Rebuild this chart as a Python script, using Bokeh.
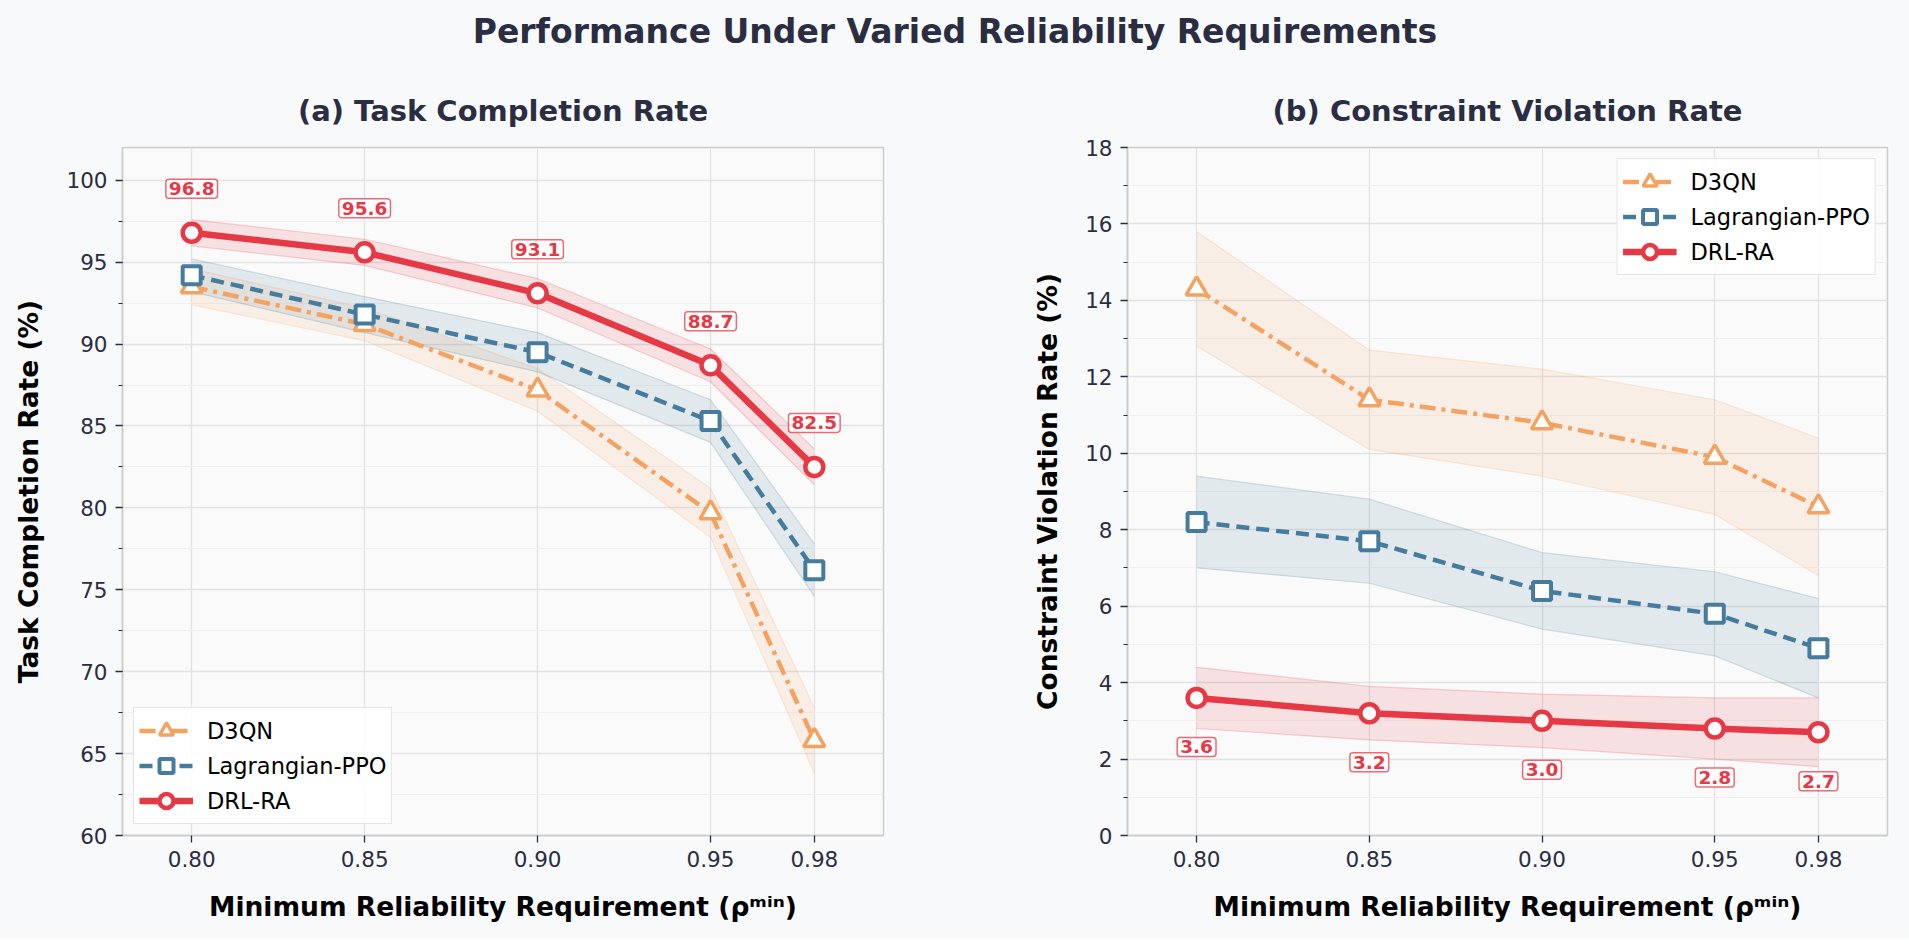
from bokeh.plotting import figure
from bokeh.models import (ColumnDataSource, FixedTicker, SingleIntervalTicker, Legend,
                          LegendItem, Range1d, Div, NumeralTickFormatter)
from bokeh.layouts import row, column
from bokeh.core.properties import value
from bokeh.embed import file_html
from bokeh.resources import INLINE

# ---------------- data ----------------
rho_min = [0.80, 0.85, 0.90, 0.95, 0.98]
methods = ["D3QN", "Lagrangian-PPO", "DRL-RA"]

tcr_d3qn = [93.5, 91.2, 87.2, 79.7, 65.8]
tcr_ppo = [94.2, 91.8, 89.5, 85.3, 76.2]
tcr_drlra = [96.8, 95.6, 93.1, 88.7, 82.5]
tcr_d3qn_std = [1.1, 1.0, 1.3, 1.5, 2.0]
tcr_ppo_std = [1.0, 1.1, 1.2, 1.3, 1.6]
tcr_drlra_std = [0.8, 0.8, 0.9, 1.0, 1.1]

cvr_d3qn = [14.3, 11.4, 10.8, 9.9, 8.6]
cvr_ppo = [8.2, 7.7, 6.4, 5.8, 4.9]
cvr_drlra = [3.6, 3.2, 3.0, 2.8, 2.7]
cvr_d3qn_std = [1.5, 1.3, 1.4, 1.5, 1.8]
cvr_ppo_std = [1.2, 1.1, 1.0, 1.1, 1.3]
cvr_drlra_std = [0.8, 0.7, 0.7, 0.8, 0.9]

main_title = "Performance Under Varied Reliability Requirements"
titles = ["(a) Task Completion Rate", "(b) Constraint Violation Rate"]
ylabels = ["Task Completion Rate (%)", "Constraint Violation Rate (%)"]
xlabel = "Minimum Reliability Requirement (\u03c1\u1d50\u2071\u207f)"

# ---------------- style ----------------
FONT = "DejaVu Sans"
DARK = "#2b2d42"
COLORS = {"D3QN": "#f4a261", "Lagrangian-PPO": "#457b9d", "DRL-RA": "#e63946"}
MARKERS = {"D3QN": "triangle", "Lagrangian-PPO": "square", "DRL-RA": "circle"}
DASH = {"D3QN": "16 6 4 6", "Lagrangian-PPO": "13 7", "DRL-RA": "solid"}
LW = {"D3QN": 4.5, "Lagrangian-PPO": 4.5, "DRL-RA": 6.5}
MSIZE = {"D3QN": 21, "Lagrangian-PPO": 18, "DRL-RA": 18}
MLW = {"D3QN": 3.5, "Lagrangian-PPO": 4, "DRL-RA": 4.5}

FIG_H = 869


def make_fig(title, ylabel, yr, interval, width, mbl, mbr):
    p = figure(width=width, height=FIG_H, x_range=Range1d(0.78, 1.0),
               y_range=Range1d(*yr), output_backend="svg", toolbar_location=None,
               min_border_left=mbl, min_border_right=mbr, min_border_top=77,
               min_border_bottom=104, background_fill_color="#fafafa",
               border_fill_color="#f8f9fa")
    p.title.text = title
    p.title.align = "center"
    p.title.text_font = FONT
    p.title.text_font_size = "29px"
    p.title.text_font_style = "bold"
    p.title.text_color = DARK
    p.title.standoff = 39
    p.outline_line_color = "#cccccc"
    p.outline_line_width = 1.5

    p.xaxis.ticker = FixedTicker(ticks=rho_min, minor_ticks=[])
    p.xaxis.formatter = NumeralTickFormatter(format="0.00")
    p.yaxis.ticker = SingleIntervalTicker(interval=interval, num_minor_ticks=2)
    for ax in (p.xaxis, p.yaxis):
        ax.axis_line_color = "#cccccc"
        ax.axis_line_width = 1.5
        ax.major_tick_line_color = DARK
        ax.major_tick_line_width = 1.3
        ax.minor_tick_line_color = DARK
        ax.major_tick_out = 7
        ax.major_tick_in = 0
        ax.minor_tick_out = 4
        ax.minor_tick_in = 0
        ax.major_label_text_font = FONT
        ax.major_label_text_font_size = "21.5px"
        ax.major_label_text_color = DARK
        ax.major_label_standoff = 8
        ax.axis_label_text_font = FONT
        ax.axis_label_text_font_size = "26.5px"
        ax.axis_label_text_font_style = "bold"
        ax.axis_label_text_color = "#000000"
    p.xaxis.minor_tick_line_color = None
    p.xaxis.axis_label = xlabel
    p.xaxis.axis_label_standoff = 21
    p.yaxis.axis_label = ylabel
    p.yaxis.axis_label_standoff = 19

    p.xgrid.grid_line_color = "#e2e2e2"
    p.xgrid.grid_line_width = 1.3
    p.ygrid.grid_line_color = "#e2e2e2"
    p.ygrid.grid_line_width = 1.3
    p.ygrid.minor_grid_line_color = "#efefef"
    p.ygrid.minor_grid_line_width = 1.0
    return p


def add_series(p, series, stds):
    items = []
    for m in methods:
        ys = series[m]
        sd = stds[m]
        lo = [a - b for a, b in zip(ys, sd)]
        hi = [a + b for a, b in zip(ys, sd)]
        c = COLORS[m]
        src = ColumnDataSource(dict(x=rho_min, y=ys, lo=lo, hi=hi))
        p.varea(x="x", y1="lo", y2="hi", source=src, fill_color=c, fill_alpha=0.13)
        p.line(x="x", y="lo", source=src, line_color=c, line_alpha=0.22, line_width=1.2)
        p.line(x="x", y="hi", source=src, line_color=c, line_alpha=0.22, line_width=1.2)
    for m in methods:
        ys = series[m]
        c = COLORS[m]
        src = ColumnDataSource(dict(x=rho_min, y=ys))
        ln = p.line(x="x", y="y", source=src, line_color=c, line_width=LW[m],
                    line_dash=DASH[m])
        sc = p.scatter(x="x", y="y", source=src, marker=MARKERS[m], size=MSIZE[m],
                       fill_color="white", line_color=c, line_width=MLW[m])
        items.append(LegendItem(label=m, renderers=[ln, sc]))
    return items


def add_legend(p, items, loc):
    lg = Legend(items=items, location=loc, margin=11, padding=5, spacing=0,
                glyph_width=54, glyph_height=35, label_standoff=14,
                label_text_font=FONT, label_text_font_size="22.5px",
                label_text_color="#000000",
                background_fill_color="white", background_fill_alpha=0.9,
                border_line_color="#cccccc", border_line_width=1.5)
    p.add_layout(lg, "center")


def add_labels(p, ys, off):
    src = ColumnDataSource(dict(x=rho_min, y=ys, t=["%.1f" % v for v in ys]))
    p.text(x="x", y="y", text="t", source=src, y_offset=off,
           text_align="center", text_baseline="middle",
           text_font=value(FONT), text_font_size="18.5px",
           text_font_style="bold", text_color="#e63946",
           background_fill_color="white", background_fill_alpha=0.9,
           border_line_color="#e63946", border_line_alpha=0.75,
           border_line_width=1.5, padding=3, border_radius=3)


# left figure
p1 = make_fig(titles[0], ylabels[0], (60, 102), 5, 999, 122, 116)
it1 = add_series(p1, {"D3QN": tcr_d3qn, "Lagrangian-PPO": tcr_ppo, "DRL-RA": tcr_drlra},
                 {"D3QN": tcr_d3qn_std, "Lagrangian-PPO": tcr_ppo_std, "DRL-RA": tcr_drlra_std})
add_labels(p1, tcr_drlra, -44)
add_legend(p1, it1, "bottom_left")

# right figure
p2 = make_fig(titles[1], ylabels[1], (0, 18), 2, 901, 128, 13)
it2 = add_series(p2, {"D3QN": cvr_d3qn, "Lagrangian-PPO": cvr_ppo, "DRL-RA": cvr_drlra},
                 {"D3QN": cvr_d3qn_std, "Lagrangian-PPO": cvr_ppo_std, "DRL-RA": cvr_drlra_std})
add_labels(p2, cvr_drlra, 49)
add_legend(p2, it2, "top_right")

title_div = Div(
    text='<div style="width:1900px;text-align:center;font-family:\'DejaVu Sans\';'
         'font-weight:bold;font-size:33px;line-height:54px;color:%s;">%s</div>' % (DARK, main_title),
    width=1900, height=60, styles={"background-color": "#f8f9fa"})

layout = column(title_div, row(p1, p2, spacing=0), spacing=0,
                styles={"background-color": "#f8f9fa"})

html = file_html(layout, INLINE, title=main_title)
html = html.replace("<body>", '<body style="background-color:#f8f9fa;">', 1)
open("out.html", "w").write(html)
